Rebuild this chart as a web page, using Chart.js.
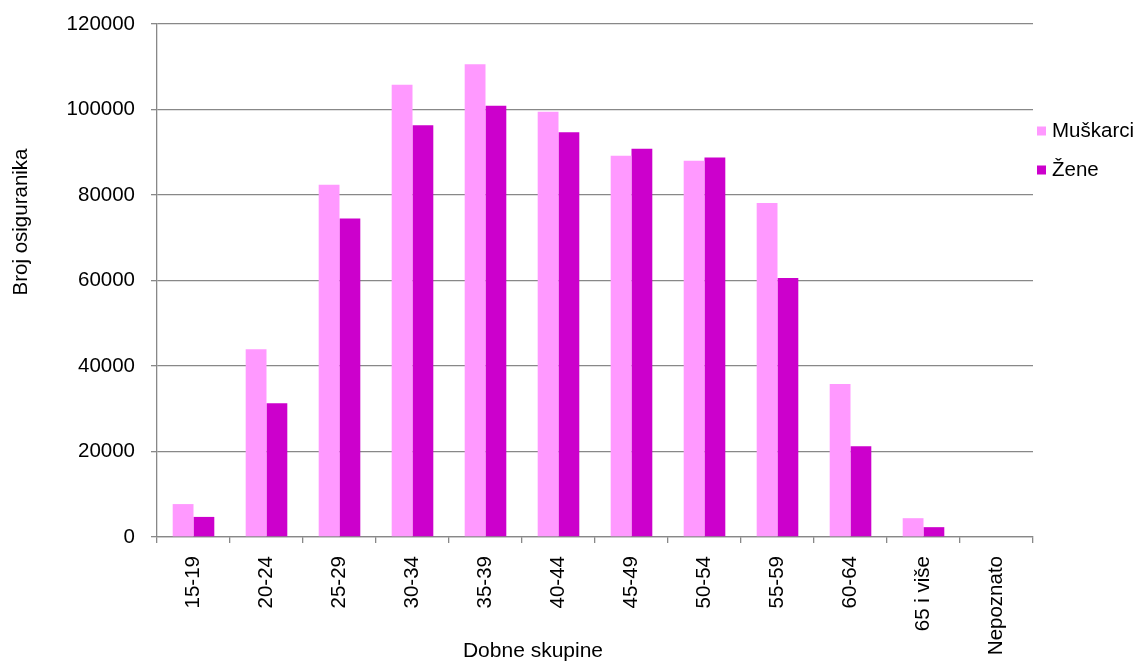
<!DOCTYPE html>
<html>
<head>
<meta charset="utf-8">
<script src="https://cdn.jsdelivr.net/npm/chart.js@4/dist/chart.umd.min.js"></script>
<style>
  html, body { margin: 0; padding: 0; background: #ffffff; }
  #wrap { width: 1140px; height: 664px; position: relative; }
</style>
</head>
<body>
<div id="wrap"><canvas id="c" width="1140" height="664"></canvas></div>
<script>
const categories = ['15-19', '20-24', '25-29', '30-34', '35-39', '40-44', '45-49', '50-54', '55-59', '60-64', '65 i više', 'Nepoznato'];
const muskarci = [7700, 43900, 82400, 105800, 110600, 99500, 89200, 88000, 78100, 35800, 4400, 0];
const zene = [4700, 31300, 74500, 96300, 100900, 94700, 90800, 88800, 60600, 21200, 2300, 0];
const seriesNames = ['Muškarci', 'Žene'];
const yTicks = [0, 20000, 40000, 60000, 80000, 100000, 120000];
const yTitle = 'Broj osiguranika';
const xTitle = 'Dobne skupine';

const FONT = '"Liberation Sans", Arial, sans-serif';
const FS = 20.5;
const GRID = '#888888';

const decorPlugin = {
  id: 'decor',
  afterDraw(chart) {
    const ctx = chart.ctx;
    ctx.save();
    ctx.fillStyle = '#000000';
    ctx.font = FS + 'px ' + FONT;
    // y-axis title
    ctx.save();
    ctx.translate(21, 222);
    ctx.rotate(-Math.PI / 2);
    ctx.textAlign = 'center';
    ctx.textBaseline = 'middle';
    ctx.fillText(yTitle, 0, 0);
    ctx.restore();
    // x-axis title
    ctx.font = (FS + 0.5) + 'px ' + FONT;
    ctx.textAlign = 'center';
    ctx.textBaseline = 'middle';
    ctx.fillText(xTitle, 533, 651);
    // legend
    ctx.font = FS + 'px ' + FONT;
    const rows = [131, 170];
    chart.data.datasets.forEach((ds, i) => {
      ctx.fillStyle = ds.backgroundColor;
      ctx.fillRect(1037, rows[i] - 4.5, 9, 9);
      ctx.fillStyle = '#000000';
      ctx.textAlign = 'left';
      ctx.textBaseline = 'middle';
      ctx.fillText(ds.label, 1052, rows[i]);
    });
    ctx.restore();
  }
};

new Chart(document.getElementById('c'), {
  type: 'bar',
  data: {
    labels: categories,
    datasets: [
      { label: seriesNames[0], data: muskarci, backgroundColor: '#FF99FF', borderWidth: 0 },
      { label: seriesNames[1], data: zene, backgroundColor: '#CC00CC', borderWidth: 0 }
    ]
  },
  options: {
    responsive: false,
    animation: false,
    devicePixelRatio: 1,
    categoryPercentage: 0.57,
    barPercentage: 1.0,
    layout: { padding: { left: 0, right: 107, top: 24, bottom: 0 } },
    plugins: {
      legend: { display: false },
      tooltip: { enabled: false },
      title: { display: false }
    },
    scales: {
      x: {
        offset: true,
        grid: {
          offset: true,
          drawOnChartArea: false,
          drawTicks: true,
          tickLength: 6,
          color: GRID,
          lineWidth: 1.3
        },
        border: { display: true, color: GRID, width: 1.3 },
        ticks: {
          color: '#000000',
          font: { family: FONT, size: FS },
          maxRotation: 90,
          minRotation: 90,
          padding: 13,
          autoSkip: false
        },
        afterFit(scale) { scale.height = 127; scale.paddingLeft = 0; scale.paddingRight = 0; }
      },
      y: {
        min: 0,
        max: 120000,
        afterBuildTicks(scale) { scale.ticks = yTicks.map(v => ({ value: v })); },
        grid: {
          drawOnChartArea: true,
          drawTicks: true,
          tickLength: 6,
          color: GRID,
          lineWidth: 1.3
        },
        border: { display: true, color: GRID, width: 1.3 },
        ticks: {
          color: '#000000',
          font: { family: FONT, size: FS },
          padding: 16,
          callback: (v) => String(v)
        },
        afterFit(scale) { scale.width = 157; scale.paddingTop = 0; scale.paddingBottom = 0; }
      }
    }
  },
  plugins: [decorPlugin]
});
</script>
</body>
</html>
